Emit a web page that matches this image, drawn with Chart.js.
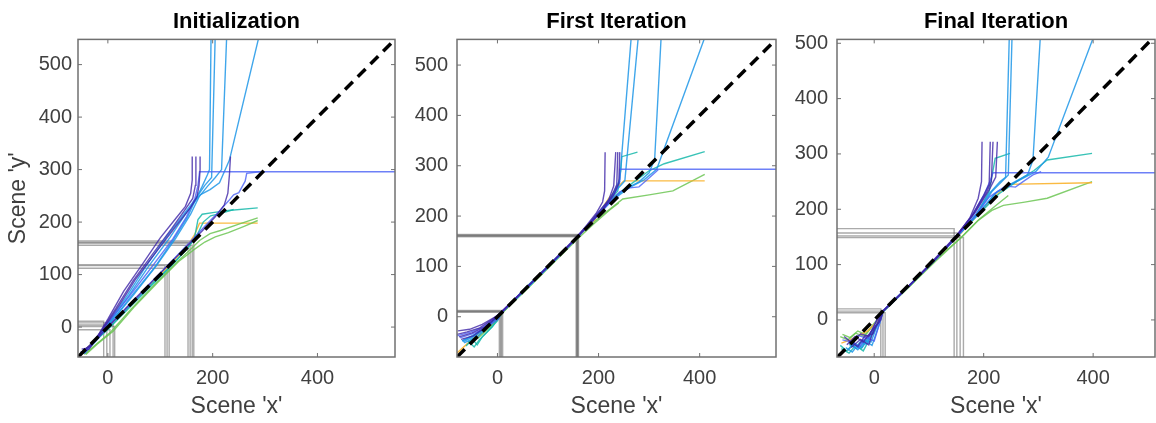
<!DOCTYPE html>
<html lang="en">
<head>
<meta charset="UTF-8">
<title>Scene x / y alignment</title>
<style>
  body { margin: 0; background: #fff; }
  #wrap { position: relative; width: 1156px; height: 423px; }
  #wrap canvas { position: absolute; top: 0; }
</style>
</head>
<body>
<div id="wrap">
  <canvas id="initChart" width="400" height="423" style="left:0px"></canvas>
  <canvas id="firstChart" width="380" height="423" style="left:400px"></canvas>
  <canvas id="finalChart" width="376" height="423" style="left:780px"></canvas>
</div>
<script src="https://cdn.jsdelivr.net/npm/chart.js"></script>
<script>
// tick values shared by all three panels
const xTicks = [0, 200, 400];
const yTicks = [0, 100, 200, 300, 400, 500];

// group index per track: 0 purple, 1 blue, 2 sky, 3 teal, 4 green, 5 orange
// ---------- Initialization ----------
const initXRange = [-57, 548];
const initYRange = [-57, 548];
const initGroup = [0, 0, 0, 0, 1, 1, 2, 2, 2, 2, 3, 3, 4, 4, 5];
const initX = [
  [-50, -40, -24, 0, 30, 66, 100, 128, 148, 158, 161, 161],
  [-48, -32, -8, 15, 48, 86, 122, 146, 162, 167, 168, 168],
  [-52, -36, -12, 22, 52, 96, 132, 158, 170, 174, 176, 176],
  [-50, -30, 0, 40, 90, 140, 180, 205, 222, 229, 232, 234],
  [-48, -28, 0, 38, 82, 124, 150, 166, 172, 175, 560],
  [-45, -20, 10, 55, 105, 150, 185, 210, 230, 240, 250, 262, 265, 290],
  [-46, -24, 6, 44, 88, 126, 152, 166, 180, 190, 194, 197],
  [-44, -24, 4, 38, 74, 112, 144, 168, 185, 198, 205],
  [-46, -22, 8, 48, 92, 130, 158, 174, 190, 205, 217, 227],
  [-47, -26, 4, 40, 78, 118, 150, 176, 195, 213, 232, 290],
  [-50, -30, 0, 40, 80, 120, 150, 165, 172, 180, 200, 230, 286],
  [-48, -28, 2, 42, 82, 122, 152, 170, 182, 196, 214, 240],
  [-45, -25, 5, 45, 90, 130, 160, 175, 195, 215, 250, 286],
  [-42, -20, 10, 50, 95, 135, 165, 185, 205, 230, 260, 286],
  [-50, -30, 0, 40, 80, 120, 150, 165, 175, 286]
];
const initY = [
  [-42, -40, -25, 15, 68, 120, 170, 205, 230, 255, 280, 325],
  [-45, -35, 0, 35, 88, 140, 188, 222, 245, 270, 300, 325],
  [-48, -42, -8, 42, 90, 148, 195, 228, 248, 270, 300, 325],
  [-48, -32, 0, 42, 93, 143, 183, 210, 232, 255, 290, 325],
  [-50, -30, 8, 55, 112, 168, 210, 245, 270, 296, 296],
  [-50, -22, 10, 55, 108, 155, 192, 218, 240, 252, 256, 278, 293, 296],
  [-50, -28, 10, 58, 112, 168, 210, 240, 268, 290, 300, 560],
  [-50, -25, 12, 62, 118, 172, 214, 245, 270, 285, 560],
  [-48, -25, 12, 60, 116, 170, 215, 248, 268, 285, 300, 560],
  [-48, -26, 10, 60, 116, 170, 218, 252, 262, 275, 318, 560],
  [-50, -32, -4, 36, 76, 116, 148, 168, 205, 215, 218, 222, 227],
  [-50, -30, -2, 40, 80, 118, 150, 175, 200, 212, 216, 224],
  [-52, -35, -10, 35, 82, 122, 150, 165, 178, 184, 196, 208],
  [-52, -32, -8, 38, 85, 125, 148, 162, 172, 180, 192, 203],
  [-50, -30, 0, 40, 80, 120, 152, 175, 198, 198]
];
const initCornerX = [153, 157, 161, 164, 109, 113, 117, -8, -2, 4, 10, 13];
const initCornerY = [160, 164, 156, 161, 117, 112, 119, 11, 4, -5, 8, 1];

// ---------- First Iteration ----------
const firstXRange = [-80, 551];
const firstYRange = [-80, 551];
const firstGroup = [0, 0, 0, 0, 1, 1, 2, 2, 2, 2, 3, 3, 5, 4, 4];
const firstX = [
  [-78, -55, -30, 0, 10, 50, 100, 150, 175, 195, 208, 212, 213],
  [-80, -60, -35, -10, 8, 50, 100, 150, 178, 200, 220, 230, 234],
  [-76, -50, -25, 0, 10, 55, 105, 155, 182, 205, 225, 236, 238],
  [-72, -48, -20, 2, 12, 60, 110, 158, 186, 210, 230, 240, 242],
  [-80, -52, -28, -2, 10, 60, 110, 160, 190, 215, 232, 242, 242, 560],
  [-74, -50, -26, 2, 10, 62, 112, 160, 192, 220, 242, 262, 280, 296, 318],
  [-70, -45, -20, 4, 12, 60, 110, 160, 190, 215, 232, 242, 265],
  [-68, -44, -18, 4, 11, 62, 112, 160, 192, 218, 236, 252, 279],
  [-66, -40, -16, 5, 12, 62, 112, 162, 195, 225, 250, 280, 300, 311, 324],
  [-70, -42, -18, 3, 10, 60, 110, 160, 195, 228, 260, 290, 315, 412],
  [-62, -50, -40, -30, -10, 8, 60, 110, 160, 192, 215, 238, 244, 246, 277],
  [-58, -46, -36, -20, 0, 10, 60, 110, 160, 195, 228, 262, 300, 330, 410],
  [-80, -50, -20, 5, 12, 60, 110, 160, 192, 220, 242, 250, 410],
  [-60, -40, -20, 5, 12, 60, 110, 160, 190, 215, 248, 300, 347, 410],
  [-56, -38, -16, 6, 12, 62, 112, 162, 192, 222, 240]
];
const firstY = [
  [-28, -25, -15, 2, 12, 50, 100, 150, 180, 205, 228, 250, 327],
  [-35, -30, -22, -5, 10, 50, 100, 152, 182, 208, 232, 260, 327],
  [-40, -32, -20, 0, 12, 55, 105, 155, 185, 210, 238, 262, 327],
  [-45, -38, -18, 2, 12, 60, 110, 158, 188, 214, 242, 265, 327],
  [-38, -30, -20, 0, 11, 60, 110, 160, 192, 222, 245, 268, 293, 293],
  [-42, -34, -24, -4, 10, 62, 112, 160, 195, 225, 248, 256, 258, 272, 292],
  [-48, -35, -18, 4, 12, 58, 108, 160, 195, 225, 250, 273, 560],
  [-50, -38, -16, 4, 11, 60, 110, 160, 196, 228, 252, 270, 560],
  [-52, -40, -18, 5, 12, 62, 112, 162, 198, 230, 252, 268, 286, 313, 560],
  [-48, -36, -20, 2, 10, 60, 110, 160, 198, 232, 256, 272, 293, 560],
  [-58, -44, -56, -40, -20, 8, 62, 110, 160, 195, 222, 250, 290, 318, 327],
  [-48, -60, -46, -30, -8, 10, 58, 108, 160, 198, 236, 262, 290, 304, 328],
  [-72, -45, -18, 3, 12, 60, 110, 160, 192, 235, 262, 270, 270],
  [-55, -40, -24, 2, 10, 58, 108, 160, 188, 208, 234, 242, 250, 283],
  [-50, -42, -22, 2, 10, 58, 108, 158, 186, 212, 226]
];
const firstCornerX = [156, 157, 158, 159, 160, 4, 6, 8, 10];
const firstCornerY = [160, 162, 161, 163, 159, 9, 11, 10, 12];

// ---------- Final Iteration ----------
const finalXRange = [-68, 513];
const finalYRange = [-67, 507];
const finalGroup = [0, 0, 0, 0, 1, 1, 2, 2, 2, 2, 3, 3, 5, 4, 4];
const finalX = [
  [-55, -40, -25, -10, 5, 15, 60, 110, 150, 175, 190, 196, 197],
  [-50, -35, -20, -5, 8, 16, 62, 112, 150, 178, 200, 210, 212],
  [-45, -30, -18, -2, 10, 15, 62, 112, 152, 182, 205, 214, 217],
  [-42, -25, -10, 0, 12, 16, 64, 114, 154, 185, 210, 222, 225],
  [-40, -28, -15, 0, 10, 16, 64, 114, 155, 180, 200, 212, 217, 520],
  [-58, -42, -30, -12, 5, 16, 64, 114, 156, 185, 210, 240, 258, 272, 290, 305],
  [-48, -36, -22, -8, 8, 16, 64, 114, 155, 185, 210, 230, 240, 247],
  [-52, -40, -26, -14, 6, 16, 64, 114, 156, 188, 215, 235, 245, 252],
  [-46, -32, -20, -6, 8, 16, 64, 114, 156, 190, 220, 250, 280, 290, 304],
  [-44, -30, -16, -4, 10, 16, 64, 114, 156, 192, 225, 260, 295, 318, 404],
  [-60, -46, -34, -20, -6, 10, 16, 64, 114, 156, 188, 210, 221, 248],
  [-62, -50, -38, -24, -8, 10, 16, 64, 114, 156, 192, 228, 260, 292, 316, 398],
  [-60, -44, -28, -12, 4, 16, 64, 114, 152, 180, 210, 236, 243, 398],
  [-62, -48, -34, -18, -2, 12, 16, 64, 114, 158, 190, 215, 236, 275, 316, 398],
  [-58, -44, -30, -16, 0, 14, 16, 64, 114, 160, 192, 220, 245]
];
const finalY = [
  [-30, -42, -25, -30, 0, 15, 58, 108, 152, 185, 220, 250, 322],
  [-45, -30, -40, -20, -5, 16, 60, 110, 150, 188, 225, 245, 322],
  [-40, -48, -30, -25, 5, 15, 60, 112, 155, 192, 230, 250, 322],
  [-50, -35, -45, -15, 0, 16, 62, 112, 156, 195, 235, 258, 322],
  [-38, -50, -32, -38, -5, 15, 62, 112, 155, 190, 225, 252, 266, 266],
  [-36, -40, -28, -34, 0, 16, 62, 112, 156, 188, 222, 242, 240, 250, 262, 268],
  [-55, -42, -50, -30, -5, 16, 62, 112, 155, 190, 228, 250, 258, 520],
  [-50, -58, -40, -44, -8, 15, 62, 112, 155, 192, 232, 252, 262, 520],
  [-44, -52, -36, -40, -4, 16, 62, 112, 156, 192, 228, 246, 262, 289, 520],
  [-42, -54, -38, -46, -6, 15, 62, 112, 156, 194, 232, 250, 268, 294, 520],
  [-52, -60, -46, -56, -30, -2, 16, 62, 112, 156, 192, 232, 292, 301],
  [-46, -56, -42, -52, -26, 0, 15, 62, 112, 156, 192, 228, 250, 270, 289, 301],
  [-42, -36, -28, -20, -4, 15, 62, 112, 150, 180, 212, 238, 245, 248],
  [-30, -36, -24, -30, -10, 8, 15, 60, 108, 148, 180, 198, 207, 213, 220, 250],
  [-26, -32, -20, -26, -6, 10, 15, 60, 110, 150, 182, 205, 225]
];
const finalCornerX = [146, 151, 157, 163, 12, 16, 20];
const finalCornerY = [165, 157, 152, 149, 20, 16, 13];

// ---------- drawing ----------
const palette = [
  'rgba(62,38,168,0.8)',
  'rgba(72,96,245,0.8)',
  'rgba(30,150,232,0.85)',
  'rgba(22,184,170,0.85)',
  'rgba(108,198,84,0.85)',
  'rgba(250,178,46,0.9)'
];
const labelColor = '#404040';
Chart.defaults.font.family = "'Liberation Sans', Arial, Helvetica, sans-serif";

function panelDatasets(groups, xs, ys, cornerX, cornerY, xRange, yRange, guideStyle) {
  const sets = [];
  // y = x reference, corner to corner
  const lo = Math.max(xRange[0], yRange[0]);
  const hi = Math.min(xRange[1], yRange[1]);
  sets.push({
    data: [{ x: lo, y: lo }, { x: hi, y: hi }],
    borderColor: '#000', borderWidth: 3.5, borderDash: [11, 7], order: 0
  });
  xs.forEach((row, i) => {
    sets.push({
      data: row.map((x, j) => ({ x, y: ys[i][j] })),
      borderColor: palette[groups[i]], borderWidth: 1.4, order: 1
    });
  });
  // grey L-shaped guides from both axes to each anchor point
  cornerX.forEach((cx, i) => {
    const cy = cornerY[i];
    sets.push({
      data: [{ x: xRange[0], y: cy }, { x: cx, y: cy }, { x: cx, y: yRange[0] }],
      borderColor: guideStyle.color, borderWidth: guideStyle.width, order: 2
    });
  });
  return sets;
}

// axes box with inward ticks on all four sides
const boxPlugin = {
  id: 'axesBox',
  afterDraw(chart) {
    const { ctx, chartArea: a, scales: { x, y } } = chart;
    ctx.save();
    ctx.strokeStyle = '#707070';
    ctx.lineWidth = 1.5;
    ctx.strokeRect(a.left, a.top, a.right - a.left, a.bottom - a.top);
    ctx.lineWidth = 1;
    ctx.beginPath();
    xTicks.forEach(v => {
      const px = x.getPixelForValue(v);
      ctx.moveTo(px, a.bottom); ctx.lineTo(px, a.bottom - 4);
      ctx.moveTo(px, a.top); ctx.lineTo(px, a.top + 4);
    });
    yTicks.forEach(v => {
      const py = y.getPixelForValue(v);
      if (py < a.top || py > a.bottom) return;
      ctx.moveTo(a.left, py); ctx.lineTo(a.left + 4, py);
      ctx.moveTo(a.right, py); ctx.lineTo(a.right - 4, py);
    });
    ctx.stroke();
    ctx.restore();
  }
};

function drawPanel(id, title, datasets, xRange, yRange, opts) {
  return new Chart(document.getElementById(id), {
    type: 'line',
    data: { datasets },
    options: {
      responsive: false,
      animation: false,
      devicePixelRatio: 1,
      layout: { padding: { left: 0, right: opts.rightPad, top: 0, bottom: 0 } },
      elements: { point: { radius: 0 }, line: { tension: 0, fill: false } },
      plugins: {
        legend: { display: false },
        tooltip: { enabled: false },
        title: {
          display: true, text: title, color: '#000', fullSize: false,
          font: { size: 22, weight: 'bold' }, padding: { top: 9, bottom: 4 }
        }
      },
      scales: {
        x: {
          type: 'linear', min: xRange[0], max: xRange[1],
          afterBuildTicks: s => { s.ticks = xTicks.map(v => ({ value: v })); },
          afterFit: s => { s.height = 66; },
          grid: { display: false, drawTicks: false },
          border: { display: false },
          ticks: { autoSkip: false, maxRotation: 0, padding: 9, color: labelColor,
                   font: { size: 20 }, callback: v => String(v) },
          title: { display: true, text: "Scene 'x'", color: labelColor,
                   font: { size: 23 }, padding: { top: 0, bottom: 3 } }
        },
        y: {
          type: 'linear', min: yRange[0], max: yRange[1],
          afterBuildTicks: s => { s.ticks = yTicks.map(v => ({ value: v })); },
          afterFit: s => { s.width = opts.yWidth; },
          grid: { display: false, drawTicks: false },
          border: { display: false },
          ticks: { autoSkip: false, padding: opts.yPad, color: labelColor,
                   font: { size: 20 }, callback: v => String(v) },
          title: { display: opts.yTitle, text: "Scene 'y'", color: labelColor,
                   font: { size: 23 }, padding: { top: 5, bottom: 0 } }
        }
      }
    },
    plugins: [boxPlugin]
  });
}

const thinGuide = { color: 'rgba(85,85,85,0.5)', width: 1.4 };
const thickGuide = { color: 'rgba(110,110,110,0.5)', width: 1.8 };

drawPanel('initChart', 'Initialization',
  panelDatasets(initGroup, initX, initY, initCornerX, initCornerY, initXRange, initYRange, thinGuide),
  initXRange, initYRange, { yWidth: 78, rightPad: 5, yPad: 6, yTitle: true });

drawPanel('firstChart', 'First Iteration',
  panelDatasets(firstGroup, firstX, firstY, firstCornerX, firstCornerY, firstXRange, firstYRange, thickGuide),
  firstXRange, firstYRange, { yWidth: 57, rightPad: 4, yPad: 9, yTitle: false });

drawPanel('finalChart', 'Final Iteration',
  panelDatasets(finalGroup, finalX, finalY, finalCornerX, finalCornerY, finalXRange, finalYRange, thinGuide),
  finalXRange, finalYRange, { yWidth: 57, rightPad: 1, yPad: 9, yTitle: false });
</script>
</body>
</html>
